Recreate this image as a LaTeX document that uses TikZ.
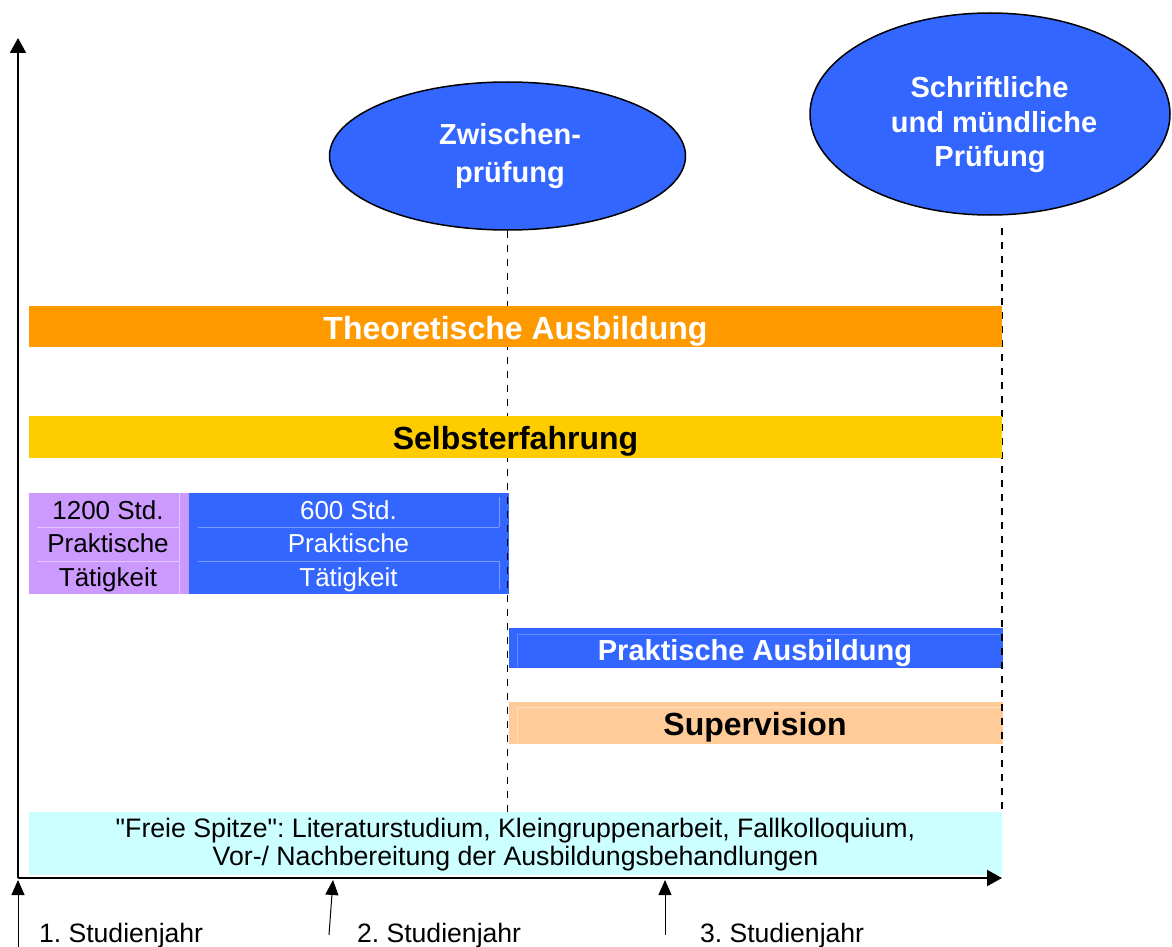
\documentclass[tikz,border=0pt]{standalone}
\usepackage{fontspec}
\setmainfont{Liberation Sans}
\usetikzlibrary{shapes.geometric,arrows.meta}
\definecolor{cOrange}{HTML}{FF9900}
\definecolor{cYellow}{HTML}{FFCC00}
\definecolor{cPurple}{HTML}{CC99FF}
\definecolor{cBlue}{HTML}{3366FF}
\definecolor{cPeach}{HTML}{FFCC99}
\definecolor{cCyan}{HTML}{CCFFFF}
\frenchspacing
\tikzset{
  barbox/.style={rectangle, draw=none, inner sep=0pt, outer sep=0pt},
  faint/.style={line width=0.7pt},
  lbl/.style={anchor=base, inner sep=0pt, outer sep=0pt, font=\fontsize{26}{30}\selectfont},
  blbl/.style={anchor=base, inner sep=0pt, outer sep=0pt, font=\fontsize{32}{36}\selectfont\bfseries},
  mlbl/.style={anchor=base, inner sep=0pt, outer sep=0pt, font=\fontsize{29}{33}\selectfont\bfseries},
  exam/.style={ellipse, draw=black, line width=1.5pt, fill=cBlue, inner sep=0pt},
  axisline/.style={line width=2pt, -{Triangle[width=16pt,length=15pt]}},
  yeararrow/.style={line width=1pt, -{Triangle[width=13pt,length=15pt]}},
  guide/.style={line width=1.5pt, dash pattern=on 7pt off 7pt},
}
\begin{document}
\begin{tikzpicture}[x=1pt,y=-1pt]
\useasboundingbox[fill=white] (0,0) rectangle (1172,947);

% exams
\node[exam, minimum width=356pt, minimum height=148pt] (zw) at (507.5,156) {};
\node[mlbl, text=white] (zw1) at (510,145) {Zwischen-};
\node[mlbl, text=white] (zw2) at (510,182) {prüfung};
\node[exam, minimum width=360pt, minimum height=202pt] (ab) at (990,114) {};
\node[mlbl, text=white] (ab1) at (989.5,98) {Schriftliche};
\node[mlbl, text=white] (ab2) at (994,132) {und mündliche};
\node[mlbl, text=white] (ab3) at (990,166) {Prüfung};

% table of practical activity
\node[barbox, fill=cPurple, minimum width=160pt, minimum height=101pt] (pk) at (109,543) {};
\node[barbox, fill=cBlue, minimum width=320pt, minimum height=101pt] (bk) at (349,543) {};
\draw[faint, draw=cPurple!55!white] (37,527) -- (179,527) (37,561) -- (179,561) (179,492.5) -- (179,593.5);
\draw[faint, draw=cBlue!65!white] (198,527) -- (499,527) (198,561) -- (499,561) (499,497) -- (499,527) (499,561) -- (499,590);
\node[lbl, text=black] (pk1) at (108,519) {1200 Std.};
\node[lbl, text=black] (pk2) at (108,552.5) {Praktische};
\node[lbl, text=black] (pk3) at (108,586) {Tätigkeit};
\node[lbl, text=white] (bk1) at (348.5,519) {600 Std.};
\node[lbl, text=white] (bk2) at (348.5,552.5) {Praktische};
\node[lbl, text=white] (bk3) at (348.5,586) {Tätigkeit};

\node[barbox, fill=cBlue, minimum width=494pt, minimum height=40.5pt] (pa) at (755.5,647.75) {};
\draw[faint, draw=cBlue!75!white] (517,667) -- (517,634) -- (1000,634);
\node[mlbl, text=white] (pat) at (755,660) {Praktische Ausbildung};
\node[barbox, fill=cPeach, minimum width=494pt, minimum height=41.5pt] (sup) at (755.5,722.75) {};
\draw[faint, draw=cPeach!60!white] (517,743) -- (517,707) -- (1000,707);
\node[blbl, text=black] (supt) at (755,735.5) {Supervision};

% guides
\coordinate (g1top) at (zw.south);
\coordinate (g1bot) at (507.5,812);
\coordinate (g2top) at (1002,228);
\coordinate (g2bot) at (1002,812);
\draw[guide] (g1top) -- (g1bot);
\draw[guide] (g2top) -- (g2bot);

% long bars (cover the guides)
\node[barbox, fill=cOrange, minimum width=973pt, minimum height=41pt] (theo) at (515.5,326.5) {};
\node[blbl, text=white] (theot) at (515.5,339.5) {Theoretische Ausbildung};
\node[barbox, fill=cYellow, minimum width=973pt, minimum height=42pt] (selb) at (515.5,437) {};
\node[blbl, text=black] (selbt) at (515.5,449) {Selbsterfahrung};

\node[barbox, fill=cCyan, minimum width=973pt, minimum height=63pt] (fs) at (515.5,843.5) {};
\node[lbl, text=black, font=\fontsize{26.7}{30}\selectfont] (fs1) at (515.5,837.5) {\textquotedbl Freie Spitze\textquotedbl: Literaturstudium, Kleingruppenarbeit, Fallkolloquium,};
\node[lbl, text=black, font=\fontsize{26.7}{30}\selectfont] (fs2) at (515.5,865) {Vor-/ Nachbereitung der Ausbildungsbehandlungen};

% axes
\coordinate (orig) at (18,878);
\coordinate (ytip) at (18,38);
\coordinate (xtip) at (1002,878);
\draw[axisline] (orig) -- (ytip);
\draw[axisline] (orig) -- (xtip);

% years
\coordinate (y1b) at (18,947);
\coordinate (y1t) at (18,880);
\coordinate (y2b) at (329,935);
\coordinate (y2t) at (333,880);
\coordinate (y3b) at (665,935);
\coordinate (y3t) at (665,880);
\draw[yeararrow] (y1b) -- (y1t);
\draw[yeararrow] (y2b) -- (y2t);
\draw[yeararrow] (y3b) -- (y3t);
\node[lbl, anchor=base west, font=\fontsize{26.6}{30}\selectfont] (yl1) at (39,942) {1. Studienjahr};
\node[lbl, anchor=base west, font=\fontsize{26.6}{30}\selectfont] (yl2) at (357,942) {2. Studienjahr};
\node[lbl, anchor=base west, font=\fontsize{26.6}{30}\selectfont] (yl3) at (700,942) {3. Studienjahr};
\end{tikzpicture}
\end{document}
